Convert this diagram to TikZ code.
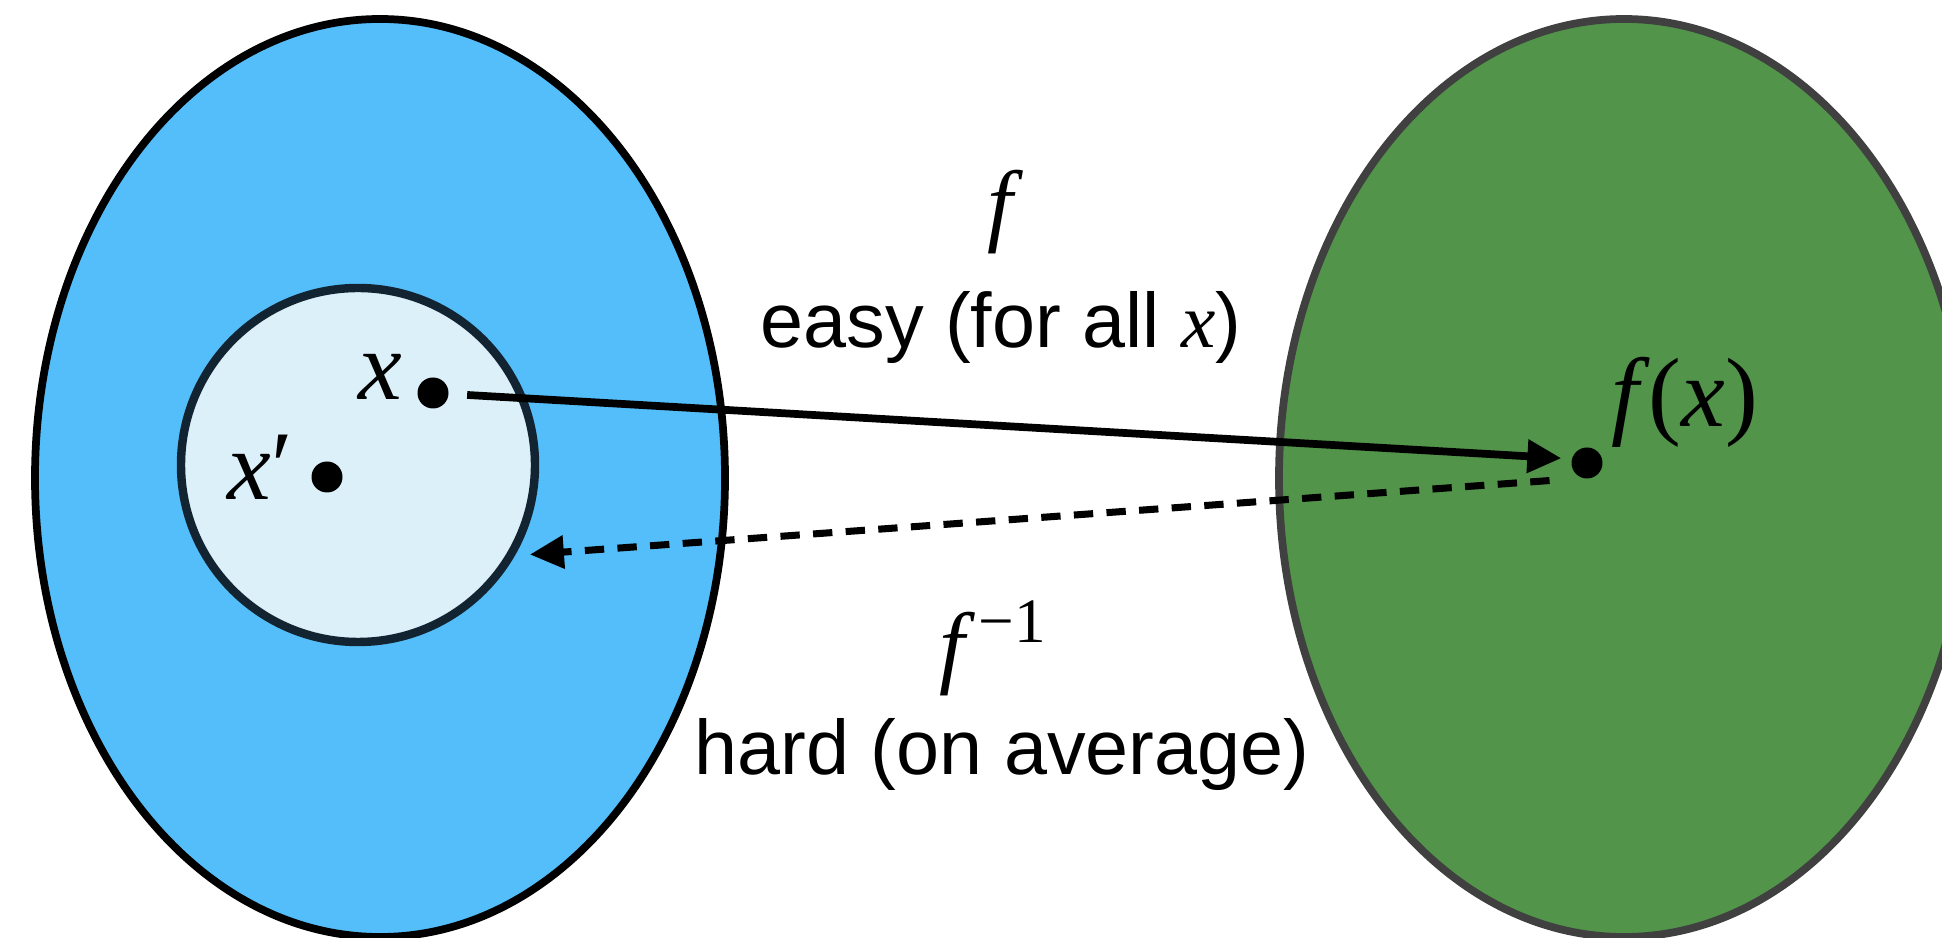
\documentclass[tikz,border=0pt]{standalone}
\usepackage{fontspec}
\setmainfont{Liberation Sans}
\newfontfamily\mathserif{Liberation Serif}
\usepackage{tikz}
\usetikzlibrary{arrows.meta, shapes.geometric}
\usepackage{xcolor}
\definecolor{skyfill}{RGB}{84,190,250}
\definecolor{palefill}{RGB}{220,240,250}
\definecolor{navyline}{RGB}{18,35,50}
\definecolor{leaffill}{RGB}{81,148,74}
\definecolor{greyline}{RGB}{64,64,64}
\newcommand{\mv}[1]{{\mathserif\itshape #1}}

\begin{document}
\begin{tikzpicture}[
			setbox/.style={ellipse, line width=2.2pt, minimum width=6.9cm, minimum height=9.18cm},
			pointdot/.style={circle, fill=black, inner sep=0pt, minimum size=0.31cm},
			ptlabel/.style={font=\fontsize{28}{30}\selectfont, inner sep=0pt},
			maplabel/.style={font=\fontsize{26}{28}\selectfont, inner sep=0pt},
			caption/.style={font=\fontsize{22}{26}\selectfont, inner sep=0pt},
			easyarrow/.style={-{Triangle[length=0.34cm, width=0.32cm]}, line width=2.2pt},
			hardarrow/.style={easyarrow, line width=2pt, dash pattern=on 5.5pt off 3.8pt}
			]
			
			% Рамка рисунка
			\useasboundingbox (0,0) rectangle (19.42,9.38);
			\clip (0,0) rectangle (19.42,9.38);
			
			% Множества
			\node[setbox, draw=black, fill=skyfill] (domainset) at (3.80,4.60) {};
			\node[setbox, draw=greyline, fill=leaffill] (rangeset) at (16.24,4.60) {};
			\node[circle, draw=navyline, fill=palefill, line width=2.4pt, minimum size=3.54cm] (inner) at (3.58,4.73) {};
			
			% Точки
			\node[pointdot] (xdot) at (4.33,5.45) {};
			\node[pointdot] (xpdot) at (3.27,4.61) {};
			\node[pointdot] (fxdot) at (15.87,4.75) {};
			
			% Стрелки
			\draw[easyarrow, shorten <=0.18cm, shorten >=0.10cm] (xdot) -- (fxdot.165);
			\draw[hardarrow, shorten <=0.32cm, shorten >=0.15cm] (fxdot.250) -- (inner.-30);
			
			% Подписи точек
			\node[ptlabel, anchor=base] (xlabel) at (3.80,5.38) {\mv{x}};
			\node[ptlabel, anchor=base] (xplabel) at (2.60,4.38) {\mv{x}{\mathserif′}};
			\node[ptlabel, anchor=base] (fxlabel) at (16.85,5.11) {\mv{f}\kern0.1em{\mathserif(}\mv{x}{\mathserif)}};
			
			% Подписи к стрелкам
			\node[maplabel, anchor=base] (fname) at (10.00,7.03) {\mv{f}};
			\node[caption, anchor=base] (easy) at (10.01,5.90) {easy (for all \mv{x})};
			\node[maplabel, anchor=base] (finv) at (9.93,2.61) {\mv{f}\kern0.15em\raisebox{0.38em}{\fontsize{18}{18}\selectfont\mathserif −1}};
			\node[caption, anchor=base] (hard) at (10.02,1.63) {hard (on average)};
			
		\end{tikzpicture}
\end{document}
